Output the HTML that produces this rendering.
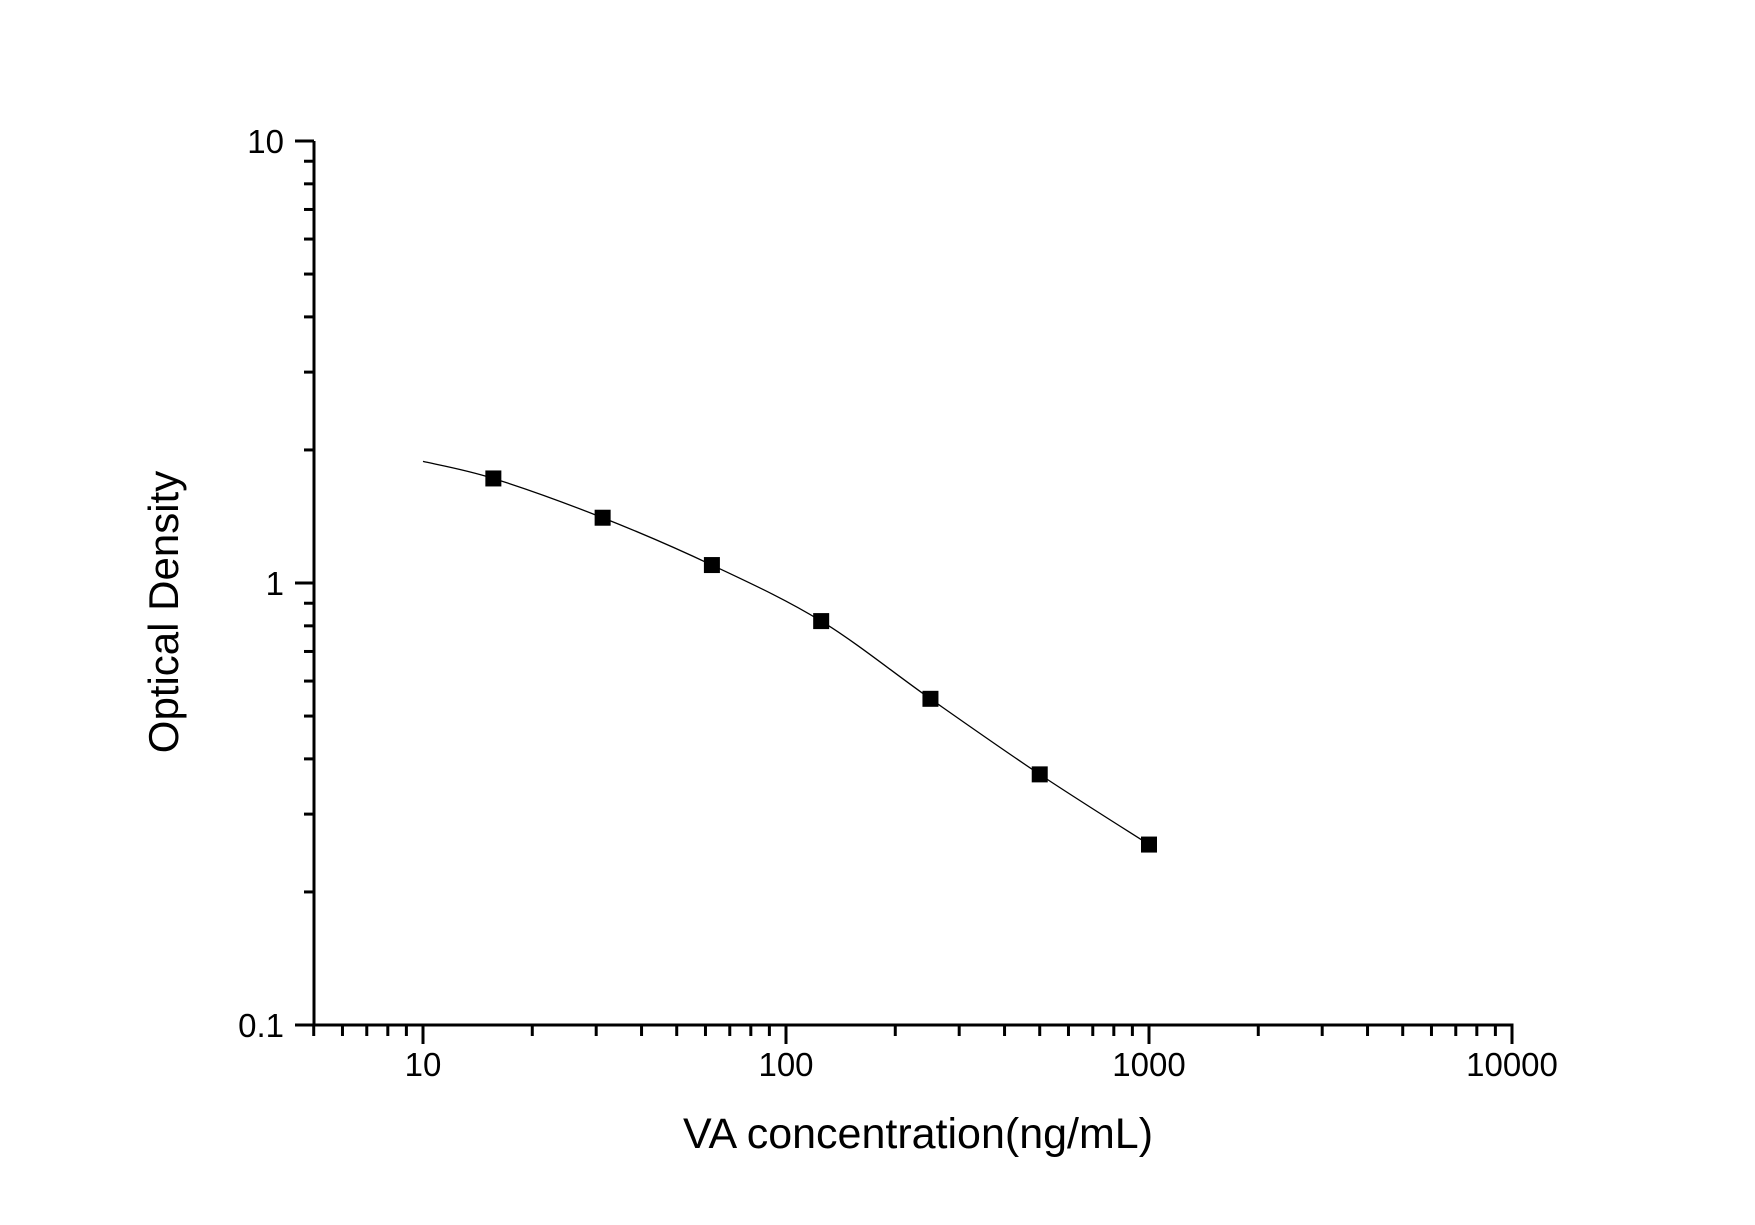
<!DOCTYPE html>
<html><head><meta charset="utf-8"><style>
html,body{margin:0;padding:0;background:#fff;}
svg{display:block;}
text{font-family:"Liberation Sans",Arial,sans-serif;fill:#000;}
</style></head><body>
<svg id="s" width="1755" height="1225" viewBox="0 0 1755 1225" xmlns="http://www.w3.org/2000/svg">
<g id="g"></g>
<text x="918" y="1148" font-size="43" text-anchor="middle">VA concentration(ng/mL)</text>
<text transform="translate(178,612) rotate(-90)" font-size="42" text-anchor="middle">Optical Density</text>
<text x="423" y="1076" font-size="33" text-anchor="middle">10</text>
<text x="786" y="1076" font-size="33" text-anchor="middle">100</text>
<text x="1149" y="1076" font-size="33" text-anchor="middle">1000</text>
<text x="1512" y="1076" font-size="33" text-anchor="middle">10000</text>
<text x="284" y="153" font-size="33" text-anchor="end">10</text>
<text x="284" y="595" font-size="33" text-anchor="end">1</text>
<text x="284" y="1037" font-size="33" text-anchor="end">0.1</text>
</svg>
<script>
var g=document.getElementById('g'),NS='http://www.w3.org/2000/svg';
function X(v){return 423+363*Math.log10(v/10);}
function Y(v){return 583-442*Math.log10(v);}
function el(t,a){var e=document.createElementNS(NS,t);for(var k in a)e.setAttribute(k,a[k]);g.appendChild(e);return e;}
el('line',{x1:314,y1:141,x2:314,y2:1026.5,stroke:'#000','stroke-width':3});
el('line',{x1:303,y1:1025,x2:1513.5,y2:1025,stroke:'#000','stroke-width':3});
for(var d=0;d<4;d++){for(var m=1;m<10;m++){var v=Math.pow(10,d)*m;if(v<5)continue;var x=X(v);
 var maj=(m==1);el('line',{x1:x,y1:1025,x2:x,y2:maj?1044:1036,stroke:'#000','stroke-width':3});}}
el('line',{x1:1512,y1:1025,x2:1512,y2:1044,stroke:'#000','stroke-width':3});
for(var d=-1;d<1;d++){for(var m=1;m<10;m++){var v=Math.pow(10,d)*m;var y=Y(v);var maj=(m==1);
 el('line',{x1:maj?295:304,y1:y,x2:314,y2:y,stroke:'#000','stroke-width':3});}}
el('line',{x1:295,y1:Y(10),x2:314,y2:Y(10),stroke:'#000','stroke-width':3});
var xs=[10,15.625,31.25,62.5,125,250,500,1000],ys=[1.884,1.724,1.405,1.098,0.82,0.547,0.369,0.256];
var P=xs.map(function(x,i){return [X(x),Y(ys[i])];});
var d='M'+P[0][0]+','+P[0][1];
for(var i=0;i<P.length-1;i++){var p0=P[i-1]||P[i],p1=P[i],p2=P[i+1],p3=P[i+2]||P[i+1];
 d+=' C'+(p1[0]+(p2[0]-p0[0])/6)+','+(p1[1]+(p2[1]-p0[1])/6)+' '+(p2[0]-(p3[0]-p1[0])/6)+','+(p2[1]-(p3[1]-p1[1])/6)+' '+p2[0]+','+p2[1];}
el('path',{d:d,fill:'none',stroke:'#000','stroke-width':1.3});
for(var i=1;i<P.length;i++)el('rect',{x:P[i][0]-8,y:P[i][1]-8,width:16,height:16,fill:'#000'});
</script>
</body></html>
